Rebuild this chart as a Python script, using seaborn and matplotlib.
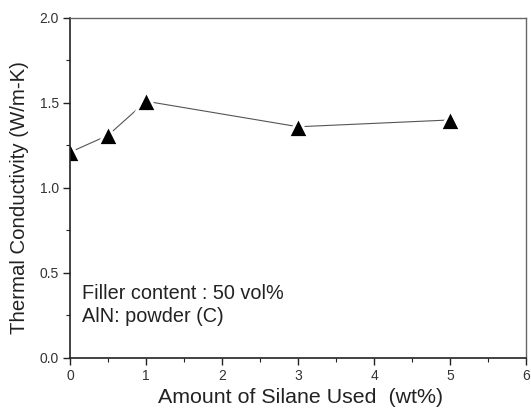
import matplotlib
matplotlib.use("Agg")
import matplotlib.pyplot as plt
import seaborn as sns
import pandas as pd
from matplotlib.ticker import MultipleLocator

silane = [0, 0.5, 1, 3, 5]
conductivity = [1.21, 1.31, 1.51, 1.36, 1.40]
annotations = ["Filler content : 50 vol%", "AlN: powder (C)"]
xticks = [0, 1, 2, 3, 4, 5, 6]
yticks = [0.0, 0.5, 1.0, 1.5, 2.0]

sns.set_style("white")
plt.rcParams['font.family'] = ['Liberation Sans', 'DejaVu Sans']

df = pd.DataFrame({"x": silane, "y": conductivity})
fig = plt.figure(figsize=(5.31, 4.09), dpi=100)
ax = fig.add_axes([0.132, 0.125, 0.859, 0.831])

sns.lineplot(data=df, x="x", y="y", ax=ax, color="#555555", linewidth=0.8,
             marker="^", markersize=15, markerfacecolor="black",
             markeredgecolor="white", markeredgewidth=2.0)

ax.set_xlim(0, 6)
ax.set_ylim(0, 2.0)
ax.set_xticks(xticks)
ax.set_xticklabels([str(v) for v in xticks])
ax.set_yticks(yticks)
ax.set_yticklabels([f"{v:.1f}" for v in yticks])
ax.xaxis.set_minor_locator(MultipleLocator(0.5))
ax.yaxis.set_minor_locator(MultipleLocator(0.25))
ax.tick_params(axis="both", which="major", direction="out", length=5, width=1,
               labelsize=10, color="#222222", labelcolor="#333333",
               bottom=True, left=True, top=False, right=False, pad=3)
ax.tick_params(axis="both", which="minor", direction="out", length=3, width=0.8,
               color="#222222", bottom=True, left=True, top=False, right=False)

for s in ["left", "bottom"]:
    ax.spines[s].set_color("#222222")
    ax.spines[s].set_linewidth(1.2)
for s in ["top", "right"]:
    ax.spines[s].set_color("#666666")
    ax.spines[s].set_linewidth(1.0)

ax.set_xlabel("Amount of Silane Used  (wt%)", fontsize=15.4, color="#222222")
ax.set_ylabel("Thermal Conductivity (W/m-K)", fontsize=14.7, color="#222222")
ax.xaxis.set_label_coords(0.505, -0.088)
ax.yaxis.set_label_coords(-0.089, 0.472)

ax.text(0.027, 0.190, annotations[0], fontsize=14.3, color="#222222",
        va="center", transform=ax.transAxes)
ax.text(0.027, 0.121, annotations[1], fontsize=14.3, color="#222222",
        va="center", transform=ax.transAxes)

fig.savefig("out.png", dpi=100)
